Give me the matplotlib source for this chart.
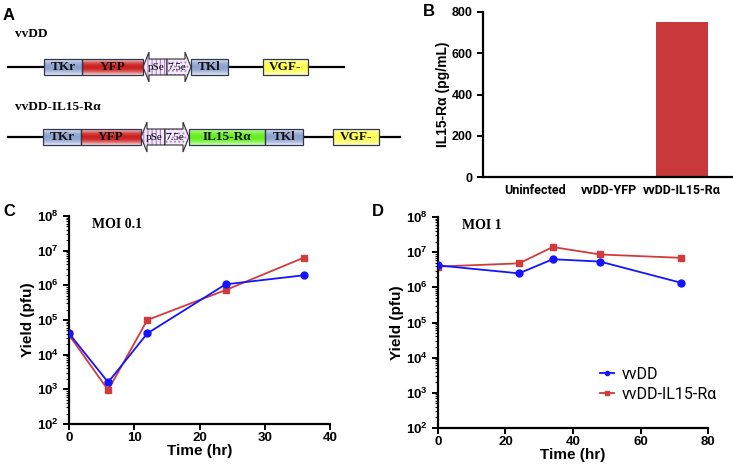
import numpy as np
import matplotlib
matplotlib.use("Agg")
import matplotlib.pyplot as plt
from matplotlib.patches import Rectangle, Polygon
from matplotlib import font_manager as fm
from matplotlib.ticker import LogLocator, NullFormatter, FixedLocator

# ---------------- data ----------------
b_categories = ["Uninfected", "vvDD-YFP", "vvDD-IL15-R\u03b1"]
b_values = [0, 0, 750]
b_yticks = [0, 200, 400, 600, 800]

c_time = [0, 6, 12, 24, 36]
c_vvdd = [4.1e4, 1.6e3, 4.1e4, 1.07e6, 1.95e6]
c_il15 = [3.7e4, 9.5e2, 1.0e5, 7.3e5, 6.3e6]
c_xticks = [0, 10, 20, 30, 40]

d_time = [0, 24, 34, 48, 72]
d_vvdd = [4.2e6, 2.5e6, 6.3e6, 5.4e6, 1.35e6]
d_il15 = [3.9e6, 4.8e6, 1.4e7, 8.6e6, 6.9e6]
d_xticks = [0, 20, 40, 60, 80]

series_names = ["vvDD", "vvDD-IL15-R\u03b1"]

# ---------------- fonts ----------------
names = {f.name for f in fm.fontManager.ttflist}
NARROW = "Liberation Sans Narrow" if "Liberation Sans Narrow" in names else "Liberation Sans"
SANS = "Liberation Sans"
SERIF = "Liberation Serif"
plt.rcParams["font.family"] = [NARROW, "DejaVu Sans"]
plt.rcParams["mathtext.fontset"] = "custom"
plt.rcParams["mathtext.rm"] = NARROW + ":bold"
plt.rcParams["mathtext.bf"] = NARROW + ":bold"
plt.rcParams["mathtext.it"] = NARROW + ":bold"
plt.rcParams["hatch.linewidth"] = 0.8

W, H = 733, 467
fig = plt.figure(figsize=(W / 100, H / 100), dpi=100)
fig.patch.set_facecolor("white")

def ax_px(l, t, r, b):
    return fig.add_axes([l / W, 1 - b / H, (r - l) / W, (b - t) / H])

BLUE = "#1414ff"
RED = "#d03c3c"

def style(ax):
    for s in ["top", "right"]:
        ax.spines[s].set_visible(False)
    for s in ["left", "bottom"]:
        ax.spines[s].set_linewidth(1.6)
    ax.tick_params(width=1.4, length=4, direction="out", labelsize=9)
    for lab in ax.get_xticklabels() + ax.get_yticklabels():
        lab.set_fontweight("bold")

# ---------------- panel A (diagram) ----------------
axd = fig.add_axes([0, 0, 1, 1], zorder=0)
axd.set_xlim(0, W)
axd.set_ylim(H, 0)
axd.axis("off")

def grad_box(x0, x1, yc, mid, edge, text, h=16, tc="#101010", fs=9.5):
    y0, y1 = yc - h / 2, yc + h / 2
    g = np.abs(np.linspace(-1, 1, 32))[:, None]
    c0 = np.array(matplotlib.colors.to_rgb(mid))
    c1 = np.array(matplotlib.colors.to_rgb(edge))
    img = (c0 * (1 - g[..., None] ** 2) + c1 * (g[..., None] ** 2))
    img = np.repeat(img, 2, axis=1)
    axd.imshow(img, extent=(x0, x1, y1, y0), aspect="auto", zorder=2, interpolation="bilinear")
    axd.add_patch(Rectangle((x0, y0), x1 - x0, h, fill=False, ec="#303850", lw=0.9, zorder=3))
    axd.text((x0 + x1) / 2, yc + 0.5, text, ha="center", va="center", fontsize=fs,
             fontweight="bold", family=SERIF, color=tc, zorder=4)

def arrows(x0, x1, yc, h=16):
    xm = (x0 + x1) / 2
    hh = 15
    hl = 6
    y0, y1 = yc - h / 2, yc + h / 2
    lpts = [(x0, yc), (x0 + hl, yc - hh), (x0 + hl, y0), (xm, y0), (xm, y1),
            (x0 + hl, y1), (x0 + hl, yc + hh)]
    rpts = [(x1, yc), (x1 - hl, yc - hh), (x1 - hl, y0), (xm, y0), (xm, y1),
            (x1 - hl, y1), (x1 - hl, yc + hh)]
    for pts, hatch in [(lpts, "||||"), (rpts, "....")]:
        axd.add_patch(Polygon(pts, closed=True, fc="#f3eaf8", ec="none", zorder=3))
        axd.add_patch(Polygon(pts, closed=True, fill=False, ec="#b27ad6", lw=0,
                              hatch=hatch, zorder=3))
        axd.add_patch(Polygon(pts, closed=True, fill=False, ec="#303030", lw=0.8, zorder=3))
    axd.text(x0 + hl + (xm - x0 - hl) / 2 - 2, yc + 0.5, "pSe", ha="center", va="center",
             fontsize=8, family=SERIF, zorder=4)
    axd.text(xm + (x1 - hl - xm) / 2 + 1, yc + 0.5, "7.5e", ha="center", va="center",
             fontsize=8, family=SERIF, zorder=4)

# row 1
y1r = 67
axd.plot([8, 344], [y1r, y1r], color="black", lw=1.6, zorder=1)
grad_box(44, 82, y1r, "#8ea2cf", "#e8ecf6", "TKr")
grad_box(82, 143, y1r, "#cc2020", "#f4dede", "YFP")
arrows(143, 191, y1r)
grad_box(191, 228, y1r, "#8ea2cf", "#e8ecf6", "TKl")
grad_box(263, 308, y1r, "#ffff50", "#ffffd0", "VGF-")
axd.text(15, 34, "vvDD", fontsize=9.5, fontweight="bold", family=SERIF, va="center")

# row 2
y2r = 137
axd.plot([8, 400], [y2r, y2r], color="black", lw=1.6, zorder=1)
grad_box(43, 81, y2r, "#8ea2cf", "#e8ecf6", "TKr")
grad_box(81, 141, y2r, "#cc2020", "#f4dede", "YFP")
arrows(141, 189, y2r)
grad_box(189, 265, y2r, "#66ee22", "#d6ffc0", "IL15-R\u03b1")
grad_box(265, 303, y2r, "#8ea2cf", "#e8ecf6", "TKl")
grad_box(333, 379, y2r, "#ffff50", "#ffffd0", "VGF-")
axd.text(15, 107, "vvDD-IL15-R\u03b1", fontsize=9.5, fontweight="bold", family=SERIF, va="center")

# panel letters
for x, y, s in [(3, 15, "A"), (423, 12, "B"), (3, 211, "C"), (372, 211, "D")]:
    axd.text(x, y, s, fontsize=12, fontweight="bold", family=SANS, va="center")

# ---------------- panel B ----------------
axb = ax_px(483, 12, 732, 177)
xb = np.arange(len(b_categories))
axb.bar(xb, b_values, width=0.7, color="#c8393b")
axb.set_xlim(-0.71, 2.68)
axb.set_ylim(0, 800)
axb.set_yticks(b_yticks)
axb.set_xticks(xb)
axb.set_xticklabels(b_categories, family=["Roboto", SANS], fontweight="bold", fontsize=7)
style(axb)
axb.tick_params(axis="x", length=0, pad=5)
axb.tick_params(axis="y", labelsize=9)
axb.set_ylabel("IL15-R\u03b1 (pg/mL)", fontsize=10, fontweight="bold", labelpad=1)

# ---------------- panels C & D ----------------
def growth(ax, t, v1, v2, xticks, xmax, title, title_x):
    ax.plot(t, v1, color=BLUE, lw=1.3, marker="o", ms=5, label=series_names[0], zorder=3)
    ax.plot(t, v2, color=RED, lw=1.3, marker="s", ms=4.5, label=series_names[1], zorder=2)
    ax.set_yscale("log")
    ax.set_ylim(1e2, 1e8)
    ax.set_xlim(0, xmax)
    ax.set_xticks(xticks)
    ax.yaxis.set_major_locator(FixedLocator([10.0 ** k for k in range(2, 9)]))
    ax.yaxis.set_minor_locator(LogLocator(base=10, subs=np.arange(2, 10), numticks=20))
    ax.yaxis.set_minor_formatter(NullFormatter())
    ax.set_yticklabels([r"$10^{%d}$" % k for k in range(2, 9)])
    style(ax)
    ax.tick_params(axis="y", which="minor", length=2, width=0.8)
    ax.tick_params(axis="both", labelsize=9.5)
    ax.tick_params(axis="x", pad=2)
    ax.set_ylabel("Yield (pfu)", fontsize=11, fontweight="bold", labelpad=1)
    ax.set_xlabel("Time (hr)", fontsize=11, fontweight="bold", labelpad=0)
    ax.text(title_x, 0.96, title, transform=ax.transAxes, fontsize=10, fontweight="bold",
            family=SERIF, va="center")

axc = ax_px(69, 216, 330, 424)
growth(axc, c_time, c_vvdd, c_il15, c_xticks, 40, "MOI 0.1", 0.09)

axdd = ax_px(438, 217, 708, 428)
growth(axdd, d_time, d_vvdd, d_il15, d_xticks, 80, "MOI 1", 0.09)
leg = axdd.legend(loc="upper left", bbox_to_anchor=(0.600, 0.29), frameon=False,
                  borderpad=0, borderaxespad=0,
                  handlelength=0.9, handletextpad=0.45, labelspacing=0.3, markerscale=0.6,
                  prop={"family": ["Roboto", SANS], "size": 11.5})

fig.savefig("out.png", dpi=100, facecolor="white")
